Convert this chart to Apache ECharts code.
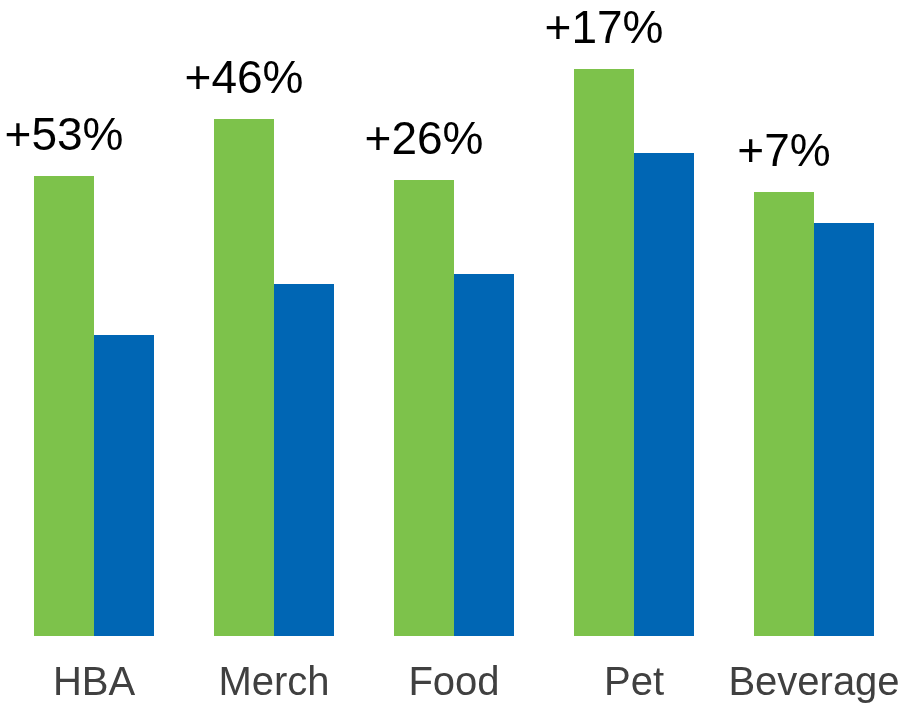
<!DOCTYPE html>
<html>
<head>
<meta charset="utf-8">
<style>html,body{margin:0;padding:0;background:#fff;}#chart{width:911px;height:706px;}</style>
<script src="https://cdn.jsdelivr.net/npm/echarts@6/dist/echarts.min.js"></script>
</head>
<body>
<div id="chart"></div>
<script>
const categories = ['HBA', 'Merch', 'Food', 'Pet', 'Beverage'];
const seriesA = [4.60, 5.17, 4.56, 5.67, 4.44];
const seriesB = [3.01, 3.52, 3.62, 4.83, 4.13];
const changeLabels = ['+53%', '+46%', '+26%', '+17%', '+7%'];

const chart = echarts.init(document.getElementById('chart'), null, {renderer: 'canvas'});
chart.setOption({
  animation: false,
  grid: {left: 4, right: 7, top: 0, bottom: 70},
  xAxis: {
    type: 'category',
    data: categories,
    axisLine: {show: false},
    axisTick: {show: false},
    axisLabel: {color: '#404040', fontSize: 40, fontFamily: 'Liberation Sans', margin: 28, interval: 0}
  },
  yAxis: {type: 'value', min: 0, max: 6.36, show: false},
  series: [
    {
      type: 'bar',
      data: seriesA,
      barGap: '0%',
      barCategoryGap: '33.33%',
      itemStyle: {color: '#7DC24B'},
      label: {
        show: true,
        position: 'top',
        distance: 16,
        color: '#000',
        fontSize: 46,
        fontFamily: 'Liberation Sans',
        formatter: p => changeLabels[p.dataIndex]
      }
    },
    {
      type: 'bar',
      data: seriesB,
      itemStyle: {color: '#0066B4'}
    }
  ]
});
</script>
</body>
</html>
